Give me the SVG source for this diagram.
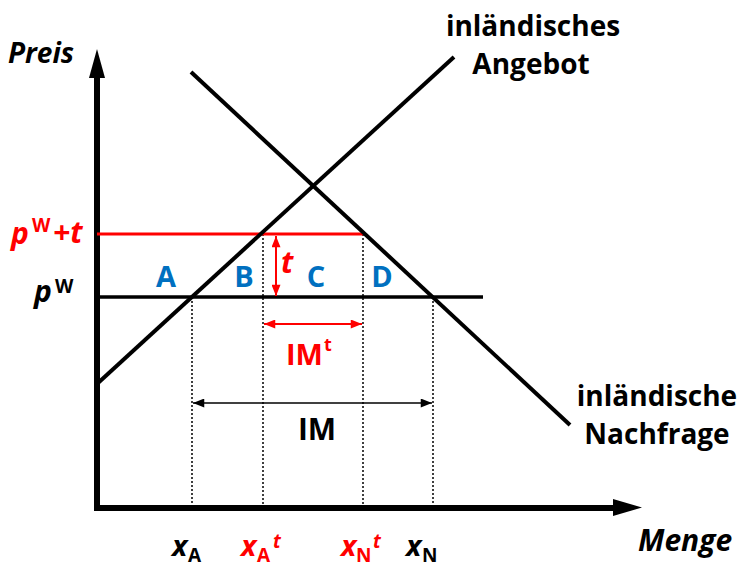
<svg xmlns="http://www.w3.org/2000/svg" width="747" height="570" viewBox="0 0 747 570">
<defs>
<style>
text{font-family:"Open Sans","Liberation Sans",sans-serif;font-weight:bold}
.it{font-style:italic}
.red{fill:#ff0000}
.blue{fill:#0070c0}
.dot{stroke:#000;stroke-width:1.5;stroke-dasharray:2 2;fill:none}
.curve{stroke:#000;stroke-width:4;fill:none}
</style>
<marker id="ar" viewBox="0 0 10 8" refX="10" refY="4" markerWidth="12" markerHeight="9" markerUnits="userSpaceOnUse" orient="auto-start-reverse"><path d="M0,0 L10,4 L0,8 Z" fill="#ff0000"/></marker>
<marker id="ab" viewBox="0 0 10 8" refX="10" refY="4" markerWidth="12" markerHeight="9" markerUnits="userSpaceOnUse" orient="auto-start-reverse"><path d="M0,0 L10,4 L0,8 Z" fill="#000"/></marker>
</defs>
<rect width="747" height="570" fill="#fff"/>
<g id="axes">
<line x1="97" y1="511" x2="97" y2="74" stroke="#000" stroke-width="6"/>
<polygon points="89,78 97,49 105,78" fill="#000"/>
<line x1="94" y1="508" x2="616" y2="508" stroke="#000" stroke-width="6"/>
<polygon points="613,499 642,507.5 613,516" fill="#000"/>
</g>
<g id="connectors">
<line class="dot" x1="192" y1="297" x2="192" y2="506"/>
<line class="dot" x1="263" y1="234" x2="263" y2="506"/>
<line class="dot" x1="363" y1="234" x2="363" y2="506"/>
<line class="dot" x1="433" y1="297" x2="433" y2="506"/>
<line x1="97" y1="297" x2="483" y2="297" stroke="#000" stroke-width="3.5"/>
<line x1="97" y1="234" x2="363" y2="234" stroke="#ff0000" stroke-width="3"/>
<line class="curve" x1="98" y1="383" x2="454" y2="57"/>
<line class="curve" x1="191" y1="72" x2="570" y2="425"/>
<line x1="276" y1="236" x2="276" y2="296" stroke="#ff0000" stroke-width="2" marker-start="url(#ar)" marker-end="url(#ar)"/>
<line x1="264" y1="324" x2="362" y2="324" stroke="#ff0000" stroke-width="2" marker-start="url(#ar)" marker-end="url(#ar)"/>
<line x1="193" y1="403" x2="432" y2="403" stroke="#000" stroke-width="1.5" marker-start="url(#ab)" marker-end="url(#ab)"/>
</g>
<g id="labels">
<text class="it" x="8" y="63" font-size="28">Preis</text>
<text x="533" y="36" font-size="28" text-anchor="middle">inländisches</text>
<text x="531" y="74" font-size="28" text-anchor="middle">Angebot</text>
<text x="657" y="406" font-size="28" text-anchor="middle">inländische</text>
<text x="657" y="444" font-size="28" text-anchor="middle">Nachfrage</text>
<text class="red" font-size="30"><tspan class="it" x="11" y="244">p</tspan><tspan x="32" y="232" font-size="19">W</tspan><tspan class="it" x="53" y="243">+t</tspan></text>
<text font-size="30"><tspan class="it" x="34" y="302">p</tspan><tspan x="55" y="293" font-size="19">W</tspan></text>
<text class="blue" x="166" y="287" font-size="29" text-anchor="middle">A</text>
<text class="blue" x="244" y="287" font-size="29" text-anchor="middle">B</text>
<text class="blue" x="316" y="287" font-size="29" text-anchor="middle">C</text>
<text class="blue" x="382" y="287" font-size="29" text-anchor="middle">D</text>
<text class="red it" x="281" y="273" font-size="30">t</text>
<text class="red" font-size="29"><tspan x="286" y="365">IM</tspan><tspan x="324" y="351" font-size="18">t</tspan></text>
<text x="317" y="440" font-size="30" text-anchor="middle">IM</text>
<text font-size="29"><tspan class="it" x="172" y="556">x</tspan><tspan x="188" y="562" font-size="19">A</tspan></text>
<text class="red" font-size="29"><tspan class="it" x="241" y="556">x</tspan><tspan x="257" y="562" font-size="19">A</tspan><tspan class="it" x="273" y="548" font-size="19">t</tspan></text>
<text class="red" font-size="29"><tspan class="it" x="341" y="556">x</tspan><tspan x="356" y="562" font-size="19">N</tspan><tspan class="it" x="373" y="548" font-size="19">t</tspan></text>
<text font-size="29"><tspan class="it" x="406" y="556">x</tspan><tspan x="422" y="562" font-size="19">N</tspan></text>
<text class="it" x="638" y="551" font-size="30">Menge</text>
</g>
</svg>
